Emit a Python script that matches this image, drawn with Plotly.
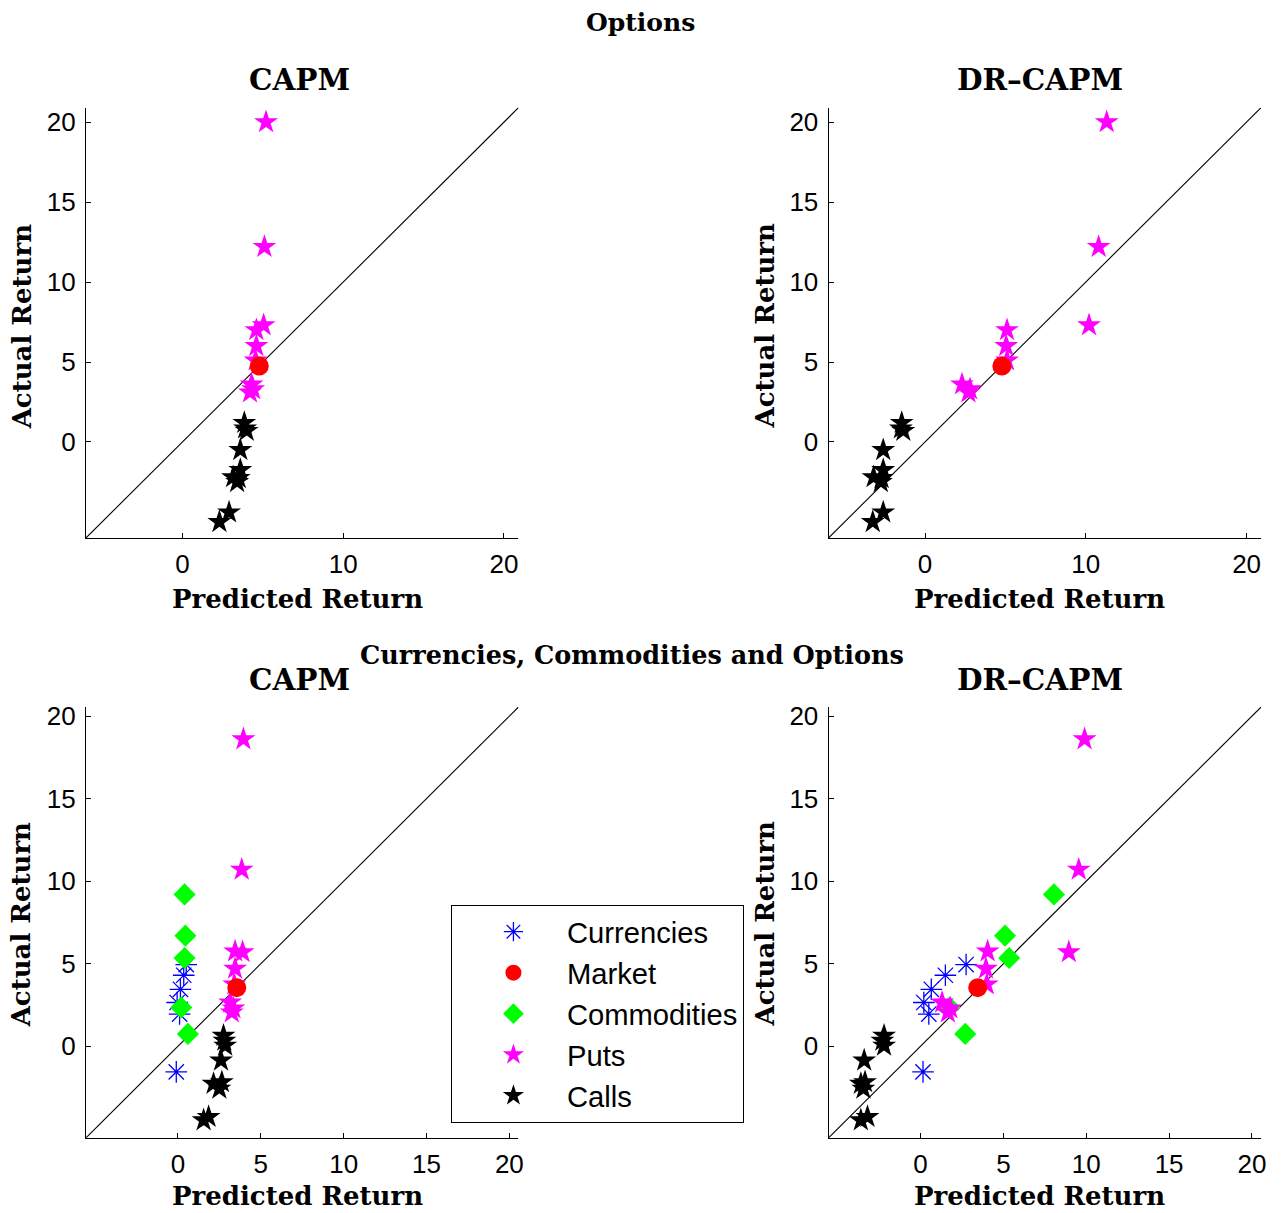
import plotly.graph_objects as go

# ---------------- data ----------------
# Top row: Options (CAPM vs DR-CAPM)
opt_puts_actual = [20.0, 12.2, 7.3, 7.0, 6.0, 5.1, 3.6, 3.3, 3.1]
opt_puts_capm = [5.2, 5.1, 5.05, 4.6, 4.6, 4.55, 4.3, 4.4, 4.2]
opt_puts_dr = [11.3, 10.8, 10.2, 5.1, 5.05, 5.1, 2.3, 2.8, 2.7]

opt_calls_actual = [1.2, 0.85, 0.7, -0.5, -1.75, -2.2, -2.25, -2.5, -4.4, -5.0]
opt_calls_capm = [3.85, 3.9, 4.0, 3.6, 3.6, 3.15, 3.5, 3.4, 2.9, 2.3]
opt_calls_dr = [-1.45, -1.5, -1.35, -2.6, -2.6, -3.2, -2.7, -2.75, -2.6, -3.25]

opt_mkt_actual = [4.75]
opt_mkt_capm = [4.78]
opt_mkt_dr = [4.78]

# Bottom row: Currencies, Commodities and Options
all_cur_actual = [4.95, 4.3, 3.45, 2.65, 1.95, -1.55]
all_cur_capm = [0.5, 0.35, 0.15, -0.05, 0.1, -0.1]
all_cur_dr = [2.75, 1.5, 0.65, 0.2, 0.5, 0.15]

all_com_actual = [9.2, 6.7, 5.35, 2.35, 0.75]
all_com_capm = [0.4, 0.45, 0.4, 0.2, 0.6]
all_com_dr = [8.05, 5.1, 5.35, 1.75, 2.7]

all_mkt_actual = [3.55]
all_mkt_capm = [3.55]
all_mkt_dr = [3.45]

all_puts_actual = [18.6, 10.7, 5.75, 5.7, 4.7, 3.75, 2.65, 2.3, 2.05]
all_puts_capm = [3.95, 3.85, 3.45, 3.9, 3.45, 3.4, 3.15, 3.35, 3.25]
all_puts_dr = [9.9, 9.55, 4.05, 8.95, 3.95, 4.0, 1.3, 1.8, 1.65]

all_calls_actual = [0.64, 0.34, 0.04, -0.86, -2.17, -2.27, -2.57, -4.28, -4.48]
all_calls_capm = [2.75, 2.8, 2.85, 2.6, 2.65, 2.15, 2.5, 1.85, 1.55]
all_calls_dr = [-2.2, -2.3, -2.2, -3.4, -3.35, -3.6, -3.45, -3.2, -3.6]

top_range = [-6.0, 20.9]
bot_range = [-5.55, 20.55]
top_xticks = [0, 10, 20]
bot_xticks = [0, 5, 10, 15, 20]
yticks = [0, 5, 10, 15, 20]

series_names = ["Currencies", "Market", "Commodities", "Puts", "Calls"]

# ---------------- styles ----------------
W, H = 1281, 1213
SANS = "Liberation Sans, Arial, Helvetica, sans-serif"
SERIF = "DejaVu Serif, serif"

styles = {
    "Currencies": dict(symbol="asterisk-open", size=18, color="blue",
                       line=dict(color="blue", width=1.3)),
    "Market": dict(symbol="circle", size=19, color="red", line=dict(width=0)),
    "Commodities": dict(symbol="diamond", size=17, color="#00ff00", line=dict(width=0)),
    "Puts": dict(symbol="star", size=18, color="magenta", line=dict(width=0)),
    "Calls": dict(symbol="star", size=18, color="black", line=dict(width=0)),
}
rank = {n: i for i, n in enumerate(series_names)}

fig = go.Figure()


def add(name, xs, ys, ax, legend=False):
    fig.add_trace(go.Scatter(
        x=xs, y=ys, mode="markers", name=name, marker=styles[name],
        xaxis="x" + ax, yaxis="y" + ax, showlegend=legend,
        legendgroup=name, legendrank=rank[name] + 1,
    ))


def diag(rng, ax):
    fig.add_trace(go.Scatter(
        x=rng, y=rng, mode="lines", line=dict(color="black", width=1.1),
        xaxis="x" + ax, yaxis="y" + ax, showlegend=False, hoverinfo="skip",
    ))


# panel 1: Options CAPM
diag(top_range, "")
add("Puts", opt_puts_capm, opt_puts_actual, "")
add("Calls", opt_calls_capm, opt_calls_actual, "")
add("Market", opt_mkt_capm, opt_mkt_actual, "")
# panel 2: Options DR-CAPM
diag(top_range, "2")
add("Puts", opt_puts_dr, opt_puts_actual, "2")
add("Calls", opt_calls_dr, opt_calls_actual, "2")
add("Market", opt_mkt_dr, opt_mkt_actual, "2")
# panel 3: All CAPM
diag(bot_range, "3")
add("Currencies", all_cur_capm, all_cur_actual, "3", True)
add("Commodities", all_com_capm, all_com_actual, "3", True)
add("Puts", all_puts_capm, all_puts_actual, "3", True)
add("Calls", all_calls_capm, all_calls_actual, "3", True)
add("Market", all_mkt_capm, all_mkt_actual, "3", True)
# panel 4: All DR-CAPM
diag(bot_range, "4")
add("Currencies", all_cur_dr, all_cur_actual, "4")
add("Commodities", all_com_dr, all_com_actual, "4")
add("Puts", all_puts_dr, all_puts_actual, "4")
add("Calls", all_calls_dr, all_calls_actual, "4")
add("Market", all_mkt_dr, all_mkt_actual, "4")


def px_x(p):
    return p / W


def px_y(p):
    return 1 - p / H


left_dom = [px_x(86.3), px_x(520.5)]
right_dom = [px_x(831.8), px_x(1266)]
top_dom = [px_y(534.6), px_y(102.2)]
bot_dom = [px_y(1137.5), px_y(704.5)]


def axis(rng, dom, anchor, ticks, standoff):
    return dict(
        range=rng, domain=dom, anchor=anchor, tickmode="array", tickvals=ticks,
        ticks="inside", ticklen=5, tickwidth=1, tickcolor="black",
        showline=True, linecolor="black", linewidth=1.1, showgrid=False,
        zeroline=False, mirror=False, ticklabelstandoff=standoff,
        tickfont=dict(family=SANS, size=26, color="black"),
    )


fig.update_layout(
    width=W, height=H, margin=dict(l=0, r=0, t=0, b=0),
    plot_bgcolor="white", paper_bgcolor="white",
    xaxis=axis(top_range, left_dom, "y", top_xticks, 3),
    yaxis=axis(top_range, top_dom, "x", yticks, 4),
    xaxis2=axis(top_range, right_dom, "y2", top_xticks, 3),
    yaxis2=axis(top_range, top_dom, "x2", yticks, 4),
    xaxis3=axis(bot_range, left_dom, "y3", bot_xticks, 3),
    yaxis3=axis(bot_range, bot_dom, "x3", yticks, 4),
    xaxis4=axis(bot_range, right_dom, "y4", bot_xticks, 3),
    yaxis4=axis(bot_range, bot_dom, "x4", yticks, 4),
    legend=dict(
        x=px_x(452.5), y=px_y(903.5), xanchor="left", yanchor="top",
        bordercolor="black", borderwidth=1.2, bgcolor="white",
        font=dict(family=SANS, size=29.2, color="black"),
        itemwidth=97, tracegroupgap=0, traceorder="grouped",
        indentation=8,
    ),
    showlegend=True,
)

texts = [
    ("Options", 643, 17, 0, 25),
    ("CAPM", 301, 74, 0, 29.5),
    ("DR–CAPM", 1044, 74, 0, 29.5),
    ("Currencies, Commodities and Options", 634, 652, 0, 25.5),
    ("CAPM", 301, 677, 0, 29.5),
    ("DR–CAPM", 1044, 677, 0, 29.5),
    ("Predicted Return", 299, 596, 0, 26),
    ("Predicted Return", 1044, 596, 0, 26),
    ("Predicted Return", 299, 1196, 0, 26),
    ("Predicted Return", 1044, 1196, 0, 26),
    ("Actual Return", 22, 322, -90, 26),
    ("Actual Return", 768, 322, -90, 26),
    ("Actual Return", 22, 923, -90, 26),
    ("Actual Return", 768, 923, -90, 26),
]
for t, x, y, ang, sz in texts:
    fig.add_annotation(
        text="<b>" + t + "</b>", x=px_x(x), y=px_y(y), xref="paper", yref="paper",
        xanchor="center", yanchor="middle", showarrow=False, textangle=ang,
        font=dict(family=SERIF, size=sz, color="black"),
    )

fig.write_html(
    "out.html",
    config={"displayModeBar": False},
    post_script="document.body.style.margin='0px';document.body.style.overflow='hidden';",
)
